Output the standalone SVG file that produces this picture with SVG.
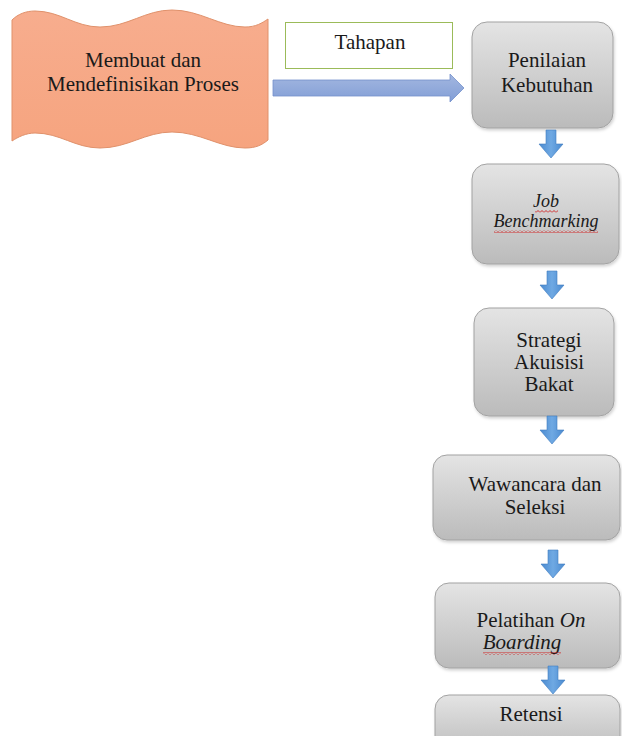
<svg xmlns="http://www.w3.org/2000/svg" width="622" height="736" viewBox="0 0 622 736">
  <defs>
    <linearGradient id="boxFill" x1="0" y1="0" x2="0" y2="1">
      <stop offset="0" stop-color="#E4E4E4"/>
      <stop offset="1" stop-color="#BBBBBB"/>
    </linearGradient>
    <linearGradient id="waveFill" x1="0" y1="0" x2="0" y2="1">
      <stop offset="0" stop-color="#F7AD8E"/>
      <stop offset="1" stop-color="#F6A47F"/>
    </linearGradient>
    <linearGradient id="hArrowFill" x1="0" y1="0" x2="0" y2="1">
      <stop offset="0" stop-color="#A3B7E0"/>
      <stop offset="1" stop-color="#829ED6"/>
    </linearGradient>
    <linearGradient id="vArrowFill" x1="0" y1="0" x2="1" y2="0">
      <stop offset="0" stop-color="#4A8AD0"/>
      <stop offset="0.5" stop-color="#6FA9E3"/>
      <stop offset="1" stop-color="#4A8AD0"/>
    </linearGradient>
    <pattern id="squiggle" x="0" y="0" width="4" height="3" patternUnits="userSpaceOnUse">
      <path d="M0,2.5 L2,0.5 L4,2.5" fill="none" stroke="#D01818" stroke-width="0.9"/>
    </pattern>
    <filter id="shadow" x="-10%" y="-10%" width="120%" height="125%">
      <feDropShadow dx="1" dy="2" stdDeviation="1.5" flood-color="#000" flood-opacity="0.18"/>
    </filter>
    <path id="downArrow" d="M-5,0 H5 V14 H12 L0,28 L-12,14 H-5 Z"/>
  </defs>
  <style>
    .box { fill: url(#boxFill); stroke: #A2A2A2; stroke-width: 1; filter: url(#shadow); }
    text { font-family: "Liberation Serif", Tinos, "Times New Roman", "Nimbus Roman", "DejaVu Serif", serif; fill: #1A1A1A; text-anchor: middle; }
    .txt { font-size: 21px; }
    .itx { font-size: 18px; font-style: italic; }
    .sq { fill: url(#squiggle); }
    .darr { fill: url(#vArrowFill); stroke: #3F7CC0; stroke-width: 0.6; }
  </style>
  <rect width="622" height="736" fill="#FFFFFF"/>

  <!-- process definition banner -->
  <g id="node-proses">
    <path d="M12,20 C18,14 26,11 35,11 C60,11 75,27 100,27 C128,27 145,10 172,10 C200,10 220,27 245,27 C256,27 262,23 268,19 L268,140 C262,145 256,148 245,148 C220,148 200,132 172,132 C145,132 128,148 100,148 C75,148 60,133 35,133 C26,133 18,137 12,141 Z" fill="url(#waveFill)" stroke="#E0916B" stroke-width="1"/>
    <text class="txt" x="143" y="67">Membuat dan</text>
    <text class="txt" x="143" y="91">Mendefinisikan Proses</text>
  </g>

  <!-- label box -->
  <g id="node-tahapan">
    <rect x="285.5" y="22.5" width="167" height="46" fill="#FFFFFF" stroke="#9BBB59" stroke-width="1"/>
    <text class="txt" x="370" y="49">Tahapan</text>
  </g>

  <g id="node-penilaian">
    <rect class="box" x="472" y="22" width="141" height="106" rx="15"/>
    <text class="txt" x="547" y="67">Penilaian</text>
    <text class="txt" x="547" y="92">Kebutuhan</text>
  </g>

  <g id="node-benchmarking">
    <rect class="box" x="472" y="164" width="147" height="100" rx="15"/>
    <text class="itx" x="546" y="207">Job</text>
    <text class="itx" x="546" y="227">Benchmarking</text>
    <rect class="sq" x="535" y="210" width="23" height="3"/>
    <rect class="sq" x="494" y="230" width="104" height="3"/>
  </g>

  <g id="node-strategi">
    <rect class="box" x="474" y="308" width="140" height="108" rx="15"/>
    <text class="txt" x="549" y="347">Strategi</text>
    <text class="txt" x="549" y="369">Akuisisi</text>
    <text class="txt" x="549" y="391">Bakat</text>
  </g>

  <g id="node-wawancara">
    <rect class="box" x="433" y="455" width="187" height="85" rx="14"/>
    <text class="txt" x="535" y="491">Wawancara dan</text>
    <text class="txt" x="535" y="514">Seleksi</text>
  </g>

  <g id="node-pelatihan">
    <rect class="box" x="435" y="583" width="185" height="85" rx="14"/>
    <text class="txt" x="531" y="627">Pelatihan <tspan font-style="italic">On</tspan></text>
    <text class="txt" x="522" y="649" font-style="italic">Boarding</text>
    <rect class="sq" x="483" y="652" width="78" height="3"/>
  </g>

  <g id="node-retensi">
    <rect class="box" x="435" y="695" width="185" height="60" rx="14"/>
    <text class="txt" x="531" y="721">Retensi</text>
  </g>

  <!-- connectors -->
  <g id="connectors">
    <path d="M273,80 H450 V74 L464,88 L450,102 V96 H273 Z" fill="url(#hArrowFill)" stroke="#7391CC" stroke-width="0.8"/>
    <use href="#downArrow" class="darr" x="551" y="130"/>
    <use href="#downArrow" class="darr" x="552" y="271"/>
    <use href="#downArrow" class="darr" x="552" y="416"/>
    <use href="#downArrow" class="darr" x="553" y="550"/>
    <use href="#downArrow" class="darr" x="553" y="666"/>
  </g>
</svg>
